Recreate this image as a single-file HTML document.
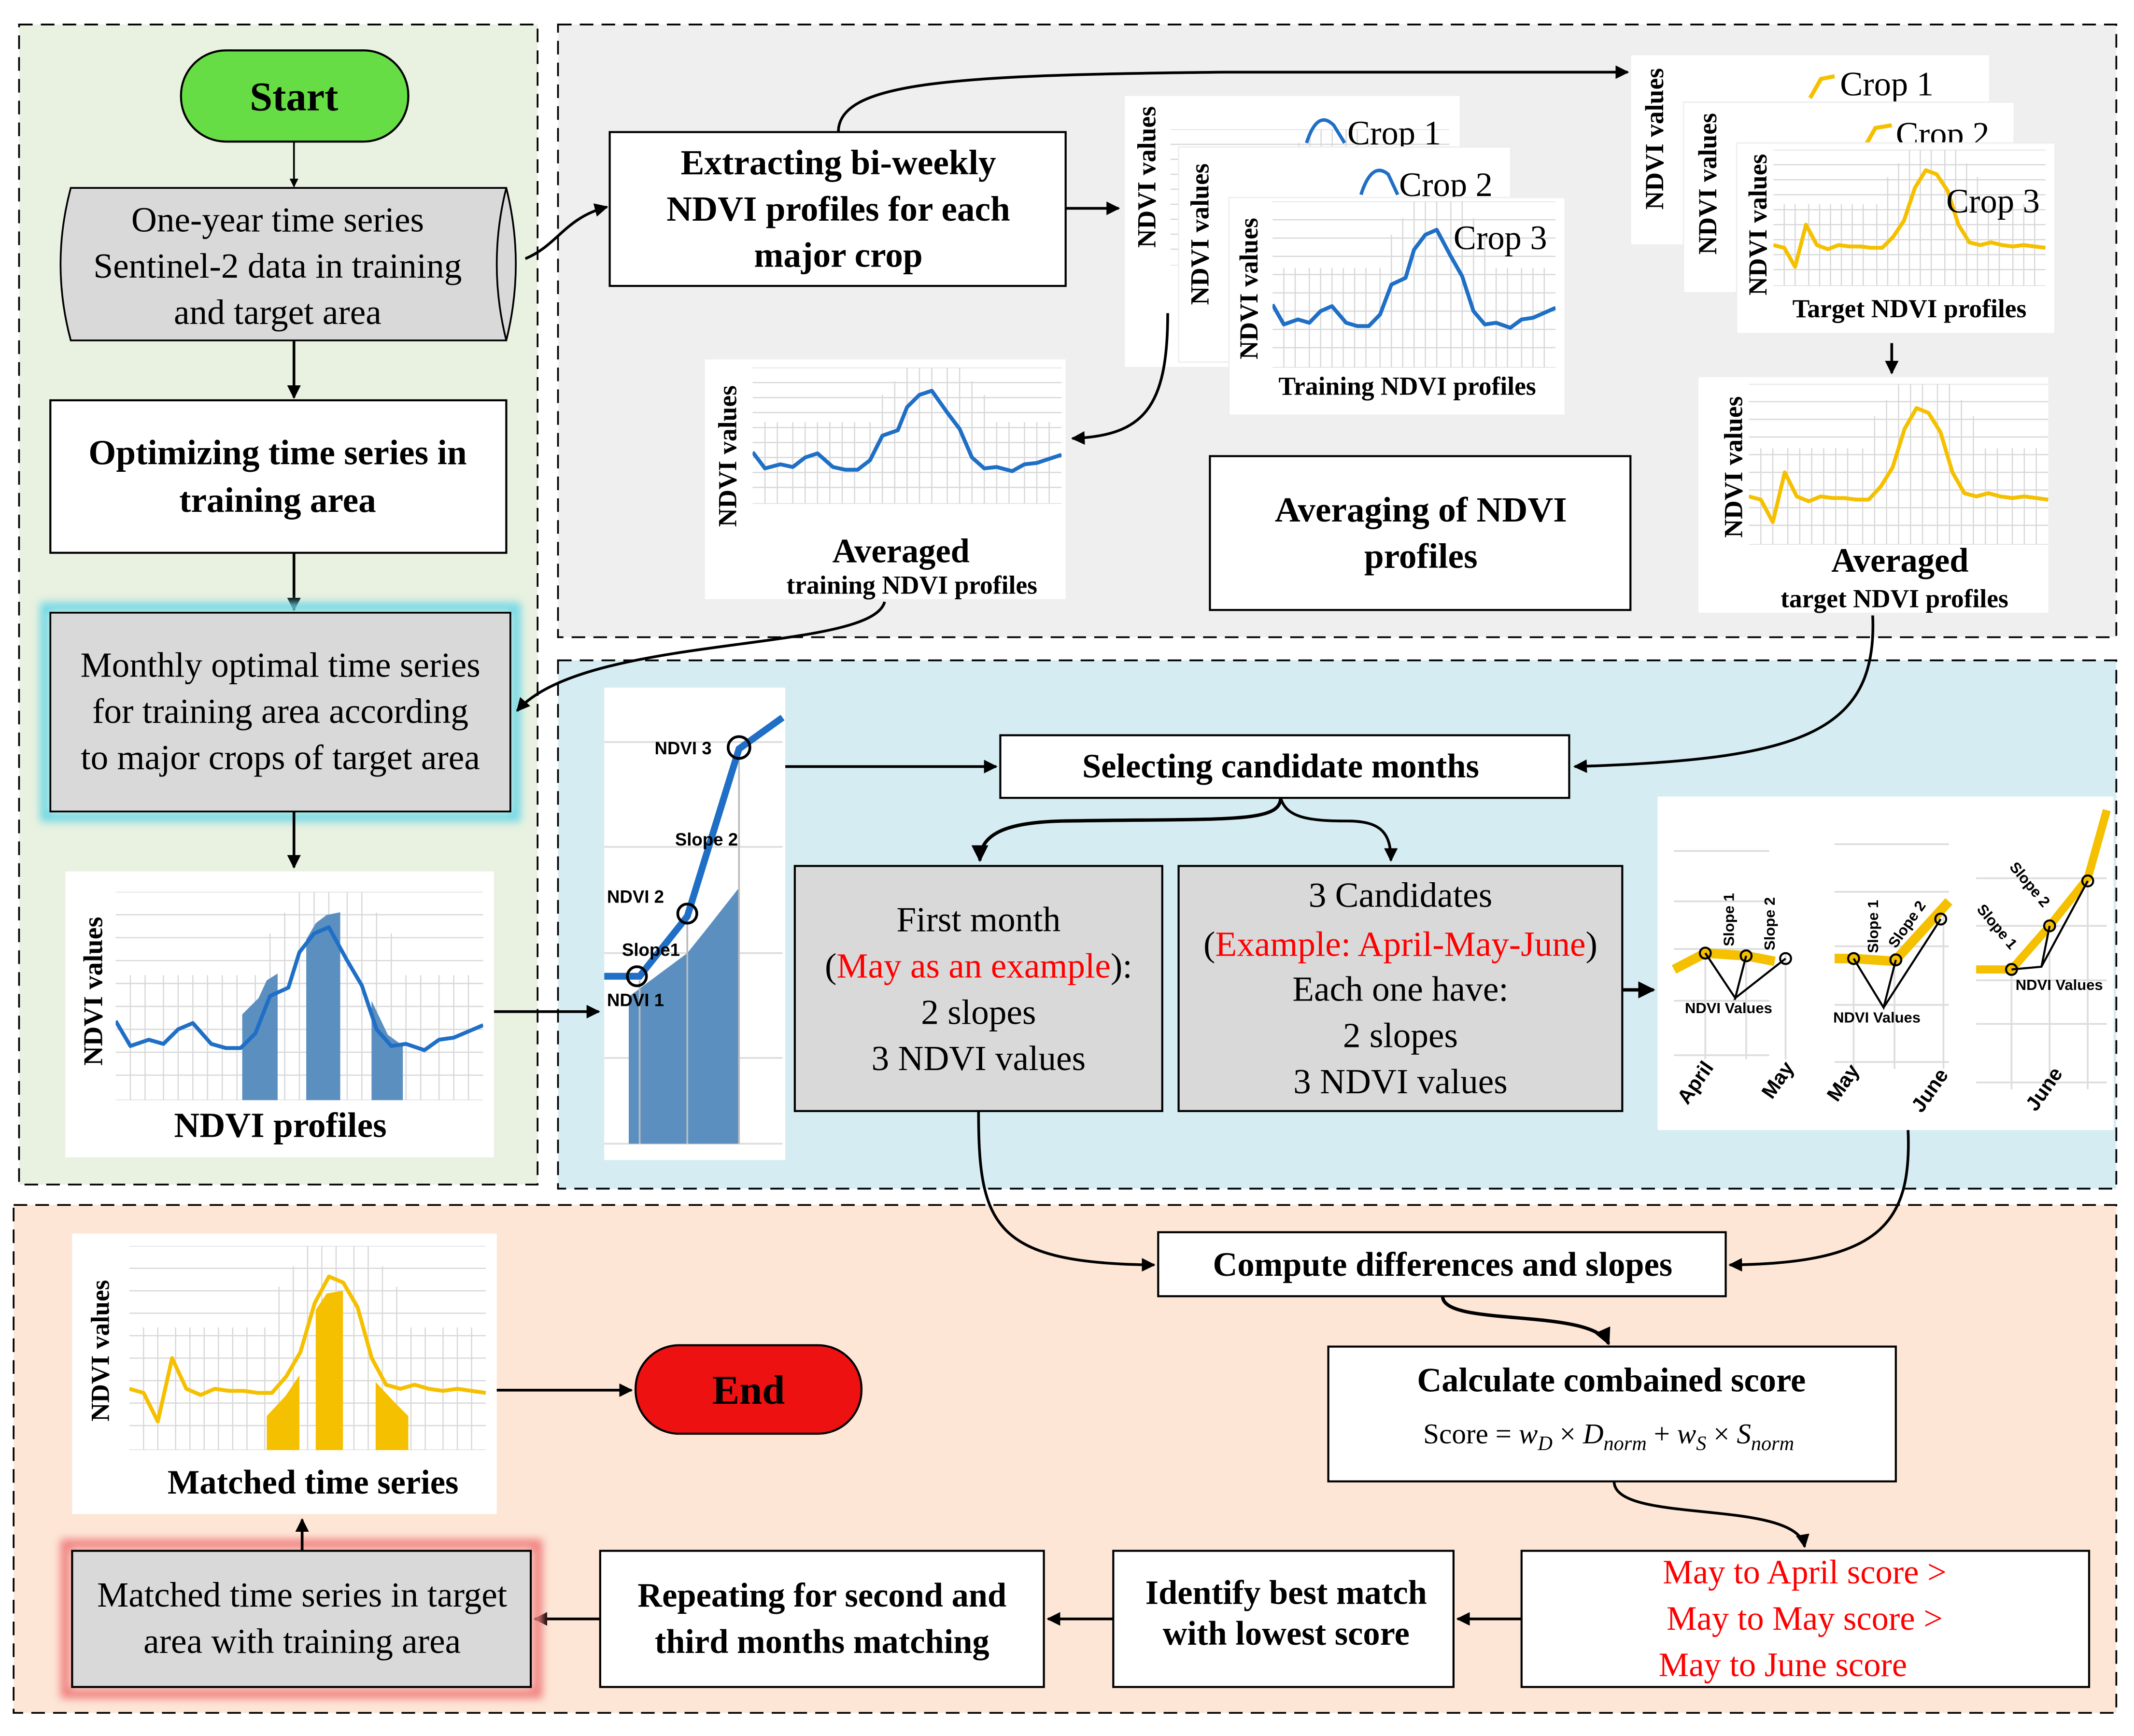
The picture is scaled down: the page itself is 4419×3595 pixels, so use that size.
<!DOCTYPE html>
<html><head><meta charset="utf-8"><style>
html,body{margin:0;padding:0;background:#fff}
svg{display:block}
text{font-family:"Liberation Serif",serif}
.b{font-weight:bold}
.s{font-family:"Liberation Sans",sans-serif;font-weight:bold}
</style></head><body>
<svg width="4419" height="3595" viewBox="0 0 1568 1275" preserveAspectRatio="none" xmlns="http://www.w3.org/2000/svg">
<defs>
<filter id="blur" x="-20%" y="-20%" width="140%" height="140%"><feGaussianBlur stdDeviation="3"/></filter>
<marker id="ah" viewBox="0 0 10 10" refX="9" refY="5" markerWidth="5" markerHeight="5" orient="auto"><path d="M0,0L10,5L0,10z" fill="#000"/></marker>
<symbol id="grid" viewBox="0 0 100 100" preserveAspectRatio="none">
<g stroke="#d8d8d8" stroke-width="2.5">
<path vector-effect="non-scaling-stroke" d="M0,0H100M0,11H100M0,22H100M0,33H100M0,44H100M0,55H100M0,66H100M0,77H100M0,88H100M0,100H100"/>
<path vector-effect="non-scaling-stroke" d="M4,40V100M8,40V100M13,40V100M17,40V100M21,40V100M25,40V100M29,40V100M33,40V100M38,40V100M42,20V100M46,10V100M50,0V100M54,0V100M58,0V100M63,0V100M67,0V100M71,10V100M75,20V100M79,40V100M83,40V100M88,40V100M92,40V100M96,40V100"/>
</g></symbol>
<symbol id="pb" viewBox="0 0 100 100" preserveAspectRatio="none">
<polyline vector-effect="non-scaling-stroke" fill="none" stroke="#1f6fc6" stroke-width="8" stroke-linejoin="round" points="0,62 4,74 9,71 13,73 17,66 21,63 26,73 30,75 34,75 38,68 42,50 47,46 50,29 54,20 58,17 63,33 67,45 71,66 75,74 79,73 84,76 88,71 92,70 96,67 100,64"/>
</symbol>
<symbol id="py" viewBox="0 0 100 100" preserveAspectRatio="none">
<polyline vector-effect="non-scaling-stroke" fill="none" stroke="#f5c000" stroke-width="8" stroke-linejoin="round" points="0,70 4,72 8,86 12,55 16,70 20,73 24,70 28,71 32,71 36,72 40,72 44,64 48,52 52,28 56,15 60,18 64,30 68,55 72,68 76,70 80,68 84,70 88,71 92,70 96,71 100,72"/>
</symbol>
</defs>

<!-- panels -->
<rect x="14" y="18" width="381" height="852" fill="#e9f1e0" stroke="#000" stroke-dasharray="10,6" stroke-width="1.3"/>
<rect x="410" y="18" width="1145" height="450" fill="#efefef" stroke="#000" stroke-dasharray="10,6" stroke-width="1.3"/>
<rect x="410" y="485" width="1145" height="388" fill="#d5edf2" stroke="#000" stroke-dasharray="10,6" stroke-width="1.3"/>
<rect x="10" y="885" width="1545" height="373" fill="#fde6d6" stroke="#000" stroke-dasharray="10,6" stroke-width="1.3"/>

<!-- Start -->
<rect x="133" y="37" width="167" height="67" rx="33" fill="#66dd44" stroke="#000" stroke-width="1.5"/>
<text x="216" y="81" font-size="30" class="b" text-anchor="middle">Start</text>
<line x1="216" y1="104" x2="216" y2="137" stroke="#000" stroke-width="1.3" marker-end="url(#ah)"/>

<!-- cylinder -->
<path d="M52,138 H372 Q386,194 372,250 H52 Q37,194 52,138z" fill="#d9d9d9" stroke="#000" stroke-width="1.3"/>
<path d="M372,138 Q358,194 372,250" fill="none" stroke="#000" stroke-width="1.3"/>
<text font-size="26" text-anchor="middle"><tspan x="204" y="170">One-year time series</tspan><tspan x="204" y="204">Sentinel-2 data in training</tspan><tspan x="204" y="238">and target area</tspan></text>
<line x1="216" y1="250" x2="216" y2="292" stroke="#000" stroke-width="2" marker-end="url(#ah)"/>

<rect x="37" y="294" width="335" height="112" fill="#fff" stroke="#000" stroke-width="1.5"/>
<text font-size="26" class="b" text-anchor="middle"><tspan x="204" y="341">Optimizing time series in</tspan><tspan x="204" y="376">training area</tspan></text>
<line x1="216" y1="406" x2="216" y2="448" stroke="#000" stroke-width="2" marker-end="url(#ah)"/>

<rect x="33" y="446" width="346" height="154" fill="none" stroke="#6fd8e6" stroke-width="7" filter="url(#blur)"/>
<rect x="37" y="450" width="338" height="146" fill="#d9d9d9" stroke="#000" stroke-width="1.3"/>
<text font-size="26" text-anchor="middle"><tspan x="206" y="497">Monthly optimal time series</tspan><tspan x="206" y="531">for training area according</tspan><tspan x="206" y="565">to major crops of target area</tspan></text>
<line x1="216" y1="596" x2="216" y2="637" stroke="#000" stroke-width="2" marker-end="url(#ah)"/>

<!-- NDVI profiles chart -->
<rect x="48" y="640" width="315" height="210" fill="#fff"/>
<use href="#grid" x="85" y="655" width="270" height="153"/>
<path d="M178,808 V745 L190,733 L196,720 L204,715 V808z M225,808 V690 L232,678 L240,672 L250,670 V808z M273,808 V735 L285,760 L296,768 V808z" fill="#5b8fc0"/>
<use href="#pb" x="85" y="655" width="270" height="153"/>
<text transform="translate(75,728) rotate(-90)" font-size="20" class="b" text-anchor="middle">NDVI values</text>
<text x="206" y="835" font-size="26" class="b" text-anchor="middle">NDVI profiles</text>
<line x1="363" y1="743" x2="440" y2="743" stroke="#000" stroke-width="2" marker-end="url(#ah)"/>

<!-- Extracting -->
<path d="M386,190 C410,180 415,160 446,152" fill="none" stroke="#000" stroke-width="2" marker-end="url(#ah)"/>
<rect x="448" y="97" width="335" height="113" fill="#fff" stroke="#000" stroke-width="1.5"/>
<text font-size="26" class="b" text-anchor="middle"><tspan x="616" y="128">Extracting bi-weekly</tspan><tspan x="616" y="162">NDVI profiles for each</tspan><tspan x="616" y="196">major crop</tspan></text>
<line x1="783" y1="153" x2="822" y2="153" stroke="#000" stroke-width="2" marker-end="url(#ah)"/>
<path d="M616,97 C616,60 700,55 900,53 L1196,53" fill="none" stroke="#000" stroke-width="2" marker-end="url(#ah)"/>

<!-- training stack -->
<rect x="826" y="70" width="247" height="200" fill="#fff" stroke="#eee"/>
<use href="#grid" x="860" y="95" width="205" height="100"/>
<text transform="translate(849,130) rotate(-90)" font-size="19" class="b" text-anchor="middle">NDVI values</text>
<path d="M960,105 Q968,80 980,92 L988,105" fill="none" stroke="#1f6fc6" stroke-width="2.5"/>
<text x="990" y="106" font-size="25">Crop 1</text>
<rect x="866" y="108" width="244" height="158" fill="#fff" stroke="#eee"/>
<text transform="translate(888,172) rotate(-90)" font-size="19" class="b" text-anchor="middle">NDVI values</text>
<path d="M1000,143 Q1008,118 1020,128 L1027,143" fill="none" stroke="#1f6fc6" stroke-width="2.5"/>
<text x="1028" y="144" font-size="25">Crop 2</text>
<rect x="903" y="145" width="247" height="160" fill="#fff" stroke="#eee"/>
<use href="#grid" x="935" y="148" width="208" height="122"/>
<use href="#pb" x="935" y="148" width="208" height="122"/>
<text transform="translate(924,212) rotate(-90)" font-size="19" class="b" text-anchor="middle">NDVI values</text>
<text x="1068" y="183" font-size="25">Crop 3</text>
<text x="1034" y="290" font-size="19" class="b" text-anchor="middle">Training NDVI profiles</text>
<path d="M858,230 C858,300 840,320 788,322" fill="none" stroke="#000" stroke-width="2" marker-end="url(#ah)"/>

<!-- target stack -->
<rect x="1198" y="40" width="264" height="140" fill="#fff" stroke="#eee"/>
<text transform="translate(1222,102) rotate(-90)" font-size="19" class="b" text-anchor="middle">NDVI values</text>
<path d="M1330,72 L1338,58 L1348,56" fill="none" stroke="#f5c000" stroke-width="3"/>
<text x="1352" y="70" font-size="25">Crop 1</text>
<rect x="1237" y="75" width="243" height="140" fill="#fff" stroke="#eee"/>
<text transform="translate(1261,135) rotate(-90)" font-size="19" class="b" text-anchor="middle">NDVI values</text>
<path d="M1370,108 L1378,94 L1390,92" fill="none" stroke="#f5c000" stroke-width="3"/>
<text x="1393" y="107" font-size="25">Crop 2</text>
<rect x="1276" y="105" width="234" height="140" fill="#fff" stroke="#eee"/>
<use href="#grid" x="1303" y="110" width="200" height="100"/>
<use href="#py" x="1303" y="110" width="200" height="100"/>
<text transform="translate(1298,165) rotate(-90)" font-size="19" class="b" text-anchor="middle">NDVI values</text>
<text x="1430" y="156" font-size="25">Crop 3</text>
<text x="1403" y="233" font-size="19" class="b" text-anchor="middle">Target NDVI profiles</text>
<line x1="1390" y1="252" x2="1390" y2="274" stroke="#000" stroke-width="2" marker-end="url(#ah)"/>

<!-- averaged training -->
<rect x="518" y="264" width="265" height="176" fill="#fff"/>
<use href="#grid" x="553" y="270" width="227" height="100"/>
<use href="#pb" x="553" y="270" width="227" height="100"/>
<text transform="translate(541,335) rotate(-90)" font-size="19" class="b" text-anchor="middle">NDVI values</text>
<text x="662" y="413" font-size="25" class="b" text-anchor="middle">Averaged</text>
<text x="670" y="436" font-size="19" class="b" text-anchor="middle">training NDVI profiles</text>
<path d="M650,442 C640,480 430,465 380,522" fill="none" stroke="#000" stroke-width="2" marker-end="url(#ah)"/>

<rect x="889" y="335" width="309" height="113" fill="#fff" stroke="#000" stroke-width="1.5"/>
<text font-size="26" class="b" text-anchor="middle"><tspan x="1044" y="383">Averaging of NDVI</tspan><tspan x="1044" y="417">profiles</tspan></text>

<!-- averaged target -->
<rect x="1248" y="277" width="257" height="173" fill="#fff"/>
<use href="#grid" x="1285" y="282" width="220" height="118"/>
<use href="#py" x="1285" y="282" width="220" height="118"/>
<text transform="translate(1280,343) rotate(-90)" font-size="19" class="b" text-anchor="middle">NDVI values</text>
<text x="1396" y="420" font-size="25" class="b" text-anchor="middle">Averaged</text>
<text x="1392" y="446" font-size="19" class="b" text-anchor="middle">target NDVI profiles</text>
<path d="M1376,452 C1380,540 1320,558 1157,563" fill="none" stroke="#000" stroke-width="2" marker-end="url(#ah)"/>

<!-- blue panel chart -->
<rect x="444" y="505" width="133" height="347" fill="#fff"/>
<g stroke="#ddd" stroke-width="1.3"><path d="M444,545H575M444,622H575M444,700H575M444,777H575M444,840H575"/></g>
<path d="M462,840 V732 L505,700 L521,680 L543,652 V840z" fill="#5b8fc0"/>
<g stroke="#bbb" stroke-width="1.3"><path d="M470,720V840M505,675V840M543,550V840"/></g>
<polyline points="444,717 470,717 505,673 543,550 575,527" fill="none" stroke="#1f6fc6" stroke-width="5"/>
<g fill="none" stroke="#000" stroke-width="2"><circle cx="468" cy="717" r="7"/><circle cx="505" cy="671" r="7"/><circle cx="543" cy="549" r="8"/></g>
<g font-size="13"><text x="481" y="554" class="s">NDVI 3</text><text x="496" y="621" class="s">Slope 2</text><text x="446" y="663" class="s">NDVI 2</text><text x="457" y="702" class="s">Slope1</text><text x="446" y="739" class="s">NDVI 1</text></g>
<line x1="577" y1="563" x2="732" y2="563" stroke="#000" stroke-width="2" marker-end="url(#ah)"/>

<rect x="735" y="540" width="418" height="46" fill="#fff" stroke="#000" stroke-width="1.5"/>
<text x="941" y="571" font-size="25" class="b" text-anchor="middle">Selecting candidate months</text>
<path d="M941,586 C941,605 900,601 780,603 C740,604 720,612 720,632" fill="none" stroke="#000" stroke-width="2.5" marker-end="url(#ah)"/>
<path d="M941,586 C945,600 960,603 990,603 C1015,603 1022,612 1022,632" fill="none" stroke="#000" stroke-width="2" marker-end="url(#ah)"/>

<rect x="584" y="636" width="270" height="180" fill="#d9d9d9" stroke="#000" stroke-width="1.5"/>
<text font-size="26" text-anchor="middle"><tspan x="719" y="684">First month</tspan><tspan x="719" y="718">(<tspan fill="#f00">May as an example</tspan>):</tspan><tspan x="719" y="752">2 slopes</tspan><tspan x="719" y="786">3 NDVI values</tspan></text>
<rect x="866" y="636" width="326" height="180" fill="#d9d9d9" stroke="#000" stroke-width="1.5"/>
<text font-size="26" text-anchor="middle"><tspan x="1029" y="666">3 Candidates</tspan><tspan x="1029" y="702">(<tspan fill="#f00">Example: April-May-June</tspan>)</tspan><tspan x="1029" y="735">Each one have:</tspan><tspan x="1029" y="769">2 slopes</tspan><tspan x="1029" y="803">3 NDVI values</tspan></text>
<line x1="1192" y1="727" x2="1215" y2="727" stroke="#000" stroke-width="2.5" marker-end="url(#ah)"/>

<!-- right mini charts -->
<rect x="1218" y="585" width="335" height="245" fill="#fff"/>
<g stroke="#ddd" stroke-width="1.3"><path d="M1230,625H1300M1230,662H1300M1230,697H1300M1230,735H1300M1230,775H1300M1348,620H1432M1348,655H1432M1348,695H1432M1348,738H1432M1348,780H1432M1452,645H1548M1452,680H1548M1452,720H1548M1452,752H1548M1452,795H1548"/>
<path d="M1253,700V778M1283,700V778M1312,700V778M1362,700V785M1392,700V785M1428,670V785M1478,712V800M1506,700V800M1534,640V800"/></g>
<polyline points="1230,712 1253,700 1283,702 1304,706" fill="none" stroke="#f5c000" stroke-width="7"/>
<polyline points="1348,704 1362,704 1392,706 1432,662" fill="none" stroke="#f5c000" stroke-width="7"/>
<polyline points="1452,712 1478,712 1506,680 1534,645 1548,595" fill="none" stroke="#f5c000" stroke-width="6"/>
<g fill="none" stroke="#000" stroke-width="1.5"><polyline points="1253,700 1275,733 1283,702 1275,733 1312,704"/><polyline points="1362,704 1384,740 1393,705 1384,740 1426,675"/><polyline points="1478,712 1500,710 1506,680 1500,710 1534,647"/>
<circle cx="1253" cy="700" r="4"/><circle cx="1283" cy="702" r="4"/><circle cx="1312" cy="704" r="4"/><circle cx="1362" cy="704" r="4"/><circle cx="1393" cy="705" r="4"/><circle cx="1426" cy="675" r="4"/><circle cx="1478" cy="712" r="4"/><circle cx="1506" cy="680" r="4"/><circle cx="1534" cy="647" r="4"/></g>
<g font-size="11">
<text x="1238" y="744" class="s">NDVI Values</text><text x="1347" y="751" class="s">NDVI Values</text><text x="1481" y="727" class="s">NDVI Values</text>
<text transform="translate(1274,695) rotate(-90)" class="s">Slope 1</text><text transform="translate(1304,698) rotate(-90)" class="s">Slope 2</text>
<text transform="translate(1380,700) rotate(-90)" class="s">Slope 1</text><text transform="translate(1393,697) rotate(-55)" class="s">Slope 2</text>
<text transform="translate(1476,637) rotate(50)" class="s">Slope 2</text><text transform="translate(1452,668) rotate(50)" class="s">Slope 1</text>
</g>
<g font-size="15">
<text transform="translate(1240,812) rotate(-55)" class="s">April</text><text transform="translate(1302,808) rotate(-55)" class="s">May</text>
<text transform="translate(1350,810) rotate(-55)" class="s">May</text><text transform="translate(1412,818) rotate(-55)" class="s">June</text>
<text transform="translate(1496,817) rotate(-55)" class="s">June</text></g>

<!-- connectors to compute -->
<path d="M719,816 C719,900 730,928 848,929" fill="none" stroke="#000" stroke-width="2" marker-end="url(#ah)"/>
<path d="M1402,830 C1405,900 1380,928 1271,929" fill="none" stroke="#000" stroke-width="2" marker-end="url(#ah)"/>

<!-- bottom -->
<rect x="851" y="905" width="417" height="47" fill="#fff" stroke="#000" stroke-width="1.5"/>
<text x="1060" y="937" font-size="25" class="b" text-anchor="middle">Compute differences and slopes</text>
<path d="M1060,952 C1060,975 1170,960 1182,987" fill="none" stroke="#000" stroke-width="2.5" marker-end="url(#ah)"/>
<rect x="976" y="989" width="417" height="99" fill="#fff" stroke="#000" stroke-width="1.5"/>
<text x="1184" y="1022" font-size="25" class="b" text-anchor="middle">Calculate combained score</text>
<text x="1182" y="1060" font-size="21" text-anchor="middle">Score = <tspan font-style="italic">w</tspan><tspan font-style="italic" font-size="15" dy="5">D</tspan><tspan dy="-5"> × </tspan><tspan font-style="italic">D</tspan><tspan font-style="italic" font-size="15" dy="5">norm</tspan><tspan dy="-5"> + </tspan><tspan font-style="italic">w</tspan><tspan font-style="italic" font-size="15" dy="5">S</tspan><tspan dy="-5"> × </tspan><tspan font-style="italic">S</tspan><tspan font-style="italic" font-size="15" dy="5">norm</tspan></text>
<path d="M1186,1088 C1186,1120 1320,1100 1326,1136" fill="none" stroke="#000" stroke-width="2" marker-end="url(#ah)"/>

<rect x="1118" y="1139" width="417" height="100" fill="#fff" stroke="#000" stroke-width="1.5"/>
<text font-size="25" fill="#f00" text-anchor="middle"><tspan x="1326" y="1163">May to April score  &gt;</tspan><tspan x="1326" y="1197">May to May score   &gt;</tspan><tspan x="1310" y="1231">May to June score</tspan></text>
<line x1="1118" y1="1189" x2="1071" y2="1189" stroke="#000" stroke-width="2" marker-end="url(#ah)"/>
<rect x="818" y="1139" width="250" height="100" fill="#fff" stroke="#000" stroke-width="1.5"/>
<text font-size="25" class="b" text-anchor="middle"><tspan x="945" y="1178">Identify best match</tspan><tspan x="945" y="1208">with lowest score</tspan></text>
<line x1="818" y1="1189" x2="770" y2="1189" stroke="#000" stroke-width="2" marker-end="url(#ah)"/>
<rect x="441" y="1139" width="326" height="100" fill="#fff" stroke="#000" stroke-width="1.5"/>
<text font-size="25" class="b" text-anchor="middle"><tspan x="604" y="1180">Repeating for second and</tspan><tspan x="604" y="1214">third months matching</tspan></text>
<line x1="441" y1="1189" x2="393" y2="1189" stroke="#000" stroke-width="2" marker-end="url(#ah)"/>

<rect x="48" y="1134" width="347" height="110" fill="none" stroke="#f08080" stroke-width="7" filter="url(#blur)"/>
<rect x="53" y="1139" width="337" height="100" fill="#d9d9d9" stroke="#000" stroke-width="1.5"/>
<text font-size="26" text-anchor="middle"><tspan x="222" y="1180">Matched time series in target</tspan><tspan x="222" y="1214">area with training area</tspan></text>
<line x1="222" y1="1139" x2="222" y2="1116" stroke="#000" stroke-width="2" marker-end="url(#ah)"/>

<rect x="53" y="906" width="312" height="206" fill="#fff"/>
<use href="#grid" x="95" y="915" width="262" height="150"/>
<path d="M196,1065 V1040 L210,1025 L220,1010 V1065z M232,1065 V962 L240,950 L252,948 V1065z M276,1065 V1015 L290,1030 L300,1040 V1065z" fill="#f5c000"/>
<use href="#py" x="95" y="915" width="262" height="150"/>
<text transform="translate(80,992) rotate(-90)" font-size="19" class="b" text-anchor="middle">NDVI values</text>
<text x="230" y="1097" font-size="25" class="b" text-anchor="middle">Matched time series</text>
<line x1="365" y1="1021" x2="464" y2="1021" stroke="#000" stroke-width="2" marker-end="url(#ah)"/>

<rect x="467" y="988" width="166" height="65" rx="32" fill="#ee1111" stroke="#000" stroke-width="1.5"/>
<text x="550" y="1031" font-size="30" class="b" text-anchor="middle">End</text>
</svg>
</body></html>
